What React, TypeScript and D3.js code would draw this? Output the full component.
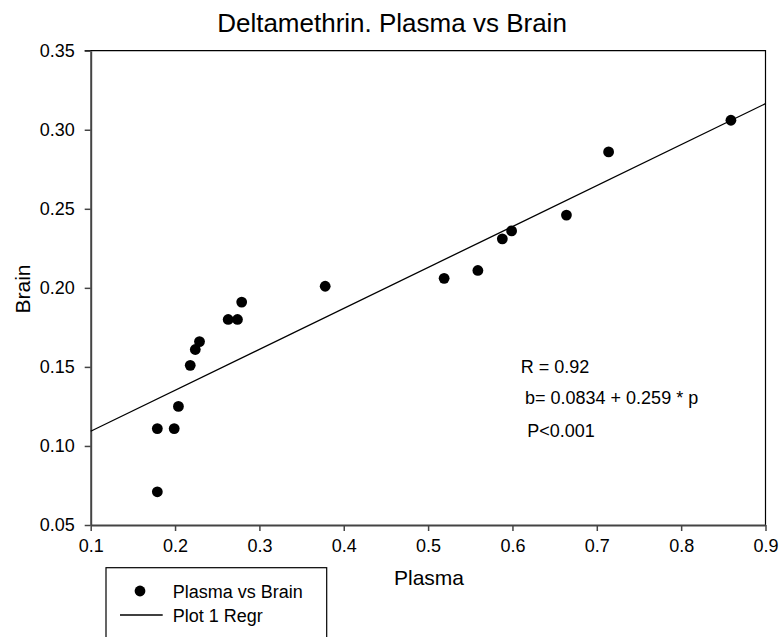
import * as d3 from 'd3';
import { useEffect, useRef } from 'react';

// Plasma (x) vs Brain (y) concentrations
const plasma = [0.179, 0.179, 0.199, 0.204, 0.218, 0.224, 0.229, 0.263, 0.274, 0.279, 0.378, 0.519, 0.559, 0.588, 0.599, 0.664, 0.714, 0.859];
const brain = [0.071, 0.111, 0.111, 0.125, 0.151, 0.161, 0.166, 0.18, 0.18, 0.191, 0.201, 0.206, 0.211, 0.231, 0.236, 0.246, 0.286, 0.306];

const xTicks = [0.1, 0.2, 0.3, 0.4, 0.5, 0.6, 0.7, 0.8, 0.9];
const yTicks = [0.05, 0.1, 0.15, 0.2, 0.25, 0.3, 0.35];

const regrIntercept = 0.0834;
const regrSlope = 0.259;
const statLines = ['R = 0.92', 'b= 0.0834 + 0.259 * p', 'P<0.001'];

const WIDTH = 782;
const HEIGHT = 637;
const FONT = '"Liberation Sans", Arial, Helvetica, sans-serif';

export default function App() {
  const ref = useRef<SVGSVGElement>(null);

  useEffect(() => {
    const svg = d3.select(ref.current);
    svg.selectAll('*').remove();

    const margin = { left: 90.7, right: WIDTH - 765.5, top: 50.7, bottom: HEIGHT - 525 };
    const x = d3.scaleLinear().domain([0.1, 0.9]).range([margin.left, WIDTH - margin.right]);
    const y = d3.scaleLinear().domain([0.05, 0.35]).range([HEIGHT - margin.bottom, margin.top]);
    const [x0, x1] = x.range();
    const [y0, y1] = y.range();

    svg.append('rect').attr('width', WIDTH).attr('height', HEIGHT).attr('fill', '#fff');

    // title
    svg.append('text')
      .attr('x', 392)
      .attr('y', 32)
      .attr('text-anchor', 'middle')
      .style('font-size', '26px')
      .text('Deltamethrin. Plasma vs Brain');

    // frame: top and right edges
    svg.append('path')
      .attr('d', `M${x0 - 6},${y1}H${x1}V${y0}`)
      .attr('fill', 'none')
      .attr('stroke', '#000')
      .attr('stroke-width', 1.2);

    // y axis
    const yAxis = svg.append('g')
      .attr('transform', `translate(${x0},0)`)
      .call(d3.axisLeft(y).tickValues(yTicks).tickFormat(d3.format('.2f')).tickSize(6).tickPadding(10).tickSizeOuter(0));
    yAxis.select('.domain').attr('stroke', '#444').attr('stroke-width', 2);
    yAxis.selectAll('line').attr('stroke', '#444').attr('stroke-width', 1.5);
    yAxis.selectAll('text').style('font-size', '18px').style('font-family', FONT).attr('fill', '#000');

    // x axis
    const xAxis = svg.append('g')
      .attr('transform', `translate(0,${y0})`)
      .call(d3.axisBottom(x).tickValues(xTicks).tickFormat(d3.format('.1f')).tickSize(6).tickPadding(8).tickSizeOuter(0));
    xAxis.select('.domain').attr('stroke', '#444').attr('stroke-width', 2);
    xAxis.selectAll('line').attr('stroke', '#444').attr('stroke-width', 1.5);
    xAxis.selectAll('text').style('font-size', '18px').style('font-family', FONT).attr('fill', '#000');

    // axis titles
    svg.append('text')
      .attr('x', 429)
      .attr('y', 585)
      .attr('text-anchor', 'middle')
      .style('font-size', '21px')
      .text('Plasma');

    svg.append('text')
      .attr('transform', 'translate(30,289) rotate(-90)')
      .attr('text-anchor', 'middle')
      .style('font-size', '21px')
      .text('Brain');

    // regression line
    const regr = d3.line<number>()
      .x((p) => x(p))
      .y((p) => y(regrIntercept + regrSlope * p));
    svg.append('path')
      .datum(x.domain())
      .attr('d', regr)
      .attr('fill', 'none')
      .attr('stroke', '#000')
      .attr('stroke-width', 1.3);

    // points
    svg.append('g')
      .selectAll('circle')
      .data(plasma.map((p, i) => [p, brain[i]]))
      .enter()
      .append('circle')
      .attr('cx', (d) => x(d[0]))
      .attr('cy', (d) => y(d[1]))
      .attr('r', 5.4)
      .attr('fill', '#000');

    // stats annotation
    const statX = [520.7, 525, 527.3];
    const statY = [372.7, 404, 436.7];
    statLines.forEach((line, i) => {
      svg.append('text')
        .attr('x', statX[i])
        .attr('y', statY[i])
        .style('font-size', '18px')
        .text(line);
    });

    // legend
    const legend = svg.append('g');
    legend.append('rect')
      .attr('x', 106)
      .attr('y', 567.7)
      .attr('width', 220.7)
      .attr('height', 100)
      .attr('fill', '#fff')
      .attr('stroke', '#000')
      .attr('stroke-width', 1.2);
    legend.append('circle').attr('cx', 140).attr('cy', 591).attr('r', 5.4).attr('fill', '#000');
    legend.append('line')
      .attr('x1', 120).attr('x2', 162.7)
      .attr('y1', 615).attr('y2', 615)
      .attr('stroke', '#000').attr('stroke-width', 1.3);
    legend.append('text').attr('x', 172.7).attr('y', 598.3).style('font-size', '18px').text('Plasma vs Brain');
    legend.append('text').attr('x', 172.7).attr('y', 621.7).style('font-size', '18px').text('Plot 1 Regr');
  }, []);

  return (
    <svg
      ref={ref}
      width={WIDTH}
      height={HEIGHT}
      style={{ position: 'absolute', left: 0, top: 0, fontFamily: FONT }}
    />
  );
}
